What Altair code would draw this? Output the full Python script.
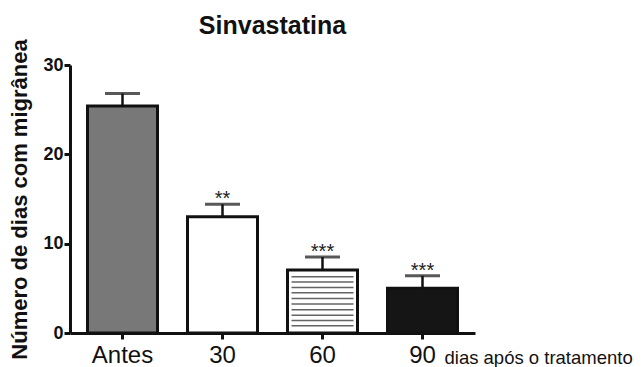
import altair as alt
import pandas as pd

categories = ["Antes", "30", "60", "90"]
means = [25.4, 13.0, 7.05, 5.0]
errors = [1.4, 1.4, 1.45, 1.4]
stars = ["", "**", "***", "***"]
fills = ["#787878", "#ffffff", "#ffffff", "#151515"]
stripe_levels = [0.8, 1.4, 2.0, 2.6, 3.25, 3.85, 4.5, 5.1, 5.7, 6.3]

df = pd.DataFrame({
    "cat": categories,
    "mean": means,
    "top": [m + e for m, e in zip(means, errors)],
    "star": stars,
    "fill": fills,
})
stripes = pd.DataFrame({"cat": ["60"] * len(stripe_levels), "lvl": stripe_levels})

FONT = "Liberation Sans"

xscale = alt.Scale(domain=categories, paddingInner=0.3, paddingOuter=0.175)
yscale = alt.Scale(domain=[0, 30], nice=False)

xenc = alt.X("cat:N", scale=xscale, sort=categories, axis=alt.Axis(
    title="dias após o tratamento", titleFont=FONT, titleFontSize=18.5,
    titleFontWeight="normal", titleColor="#111", titleX=374, titleY=30,
    titleAlign="left", titleBaseline="alphabetic", titleAnchor="start",
    labelFont=FONT, labelFontSize=24, labelColor="#111", labelAngle=0,
    labelBaseline="alphabetic", labelPadding=23, domainColor="#111", domainWidth=3,
    tickColor="#111", tickWidth=3, tickSize=6, grid=False))

bars = alt.Chart(df).mark_bar(stroke="#111", strokeWidth=3).encode(
    x=xenc,
    y=alt.Y("mean:Q", scale=yscale, axis=alt.Axis(
        title="Número de dias com migrânea", titleFont=FONT, titleFontSize=22,
        titleFontWeight="bold", titleColor="#111", titleX=-44, titleY=134,
        titleAngle=-90, titleAlign="center", titleBaseline="alphabetic",
        labelFont=FONT, labelFontSize=18, labelFontWeight="bold", labelColor="#111",
        labelPadding=1, values=[0, 10, 20, 30], domainColor="#111", domainWidth=3,
        tickColor="#111", tickWidth=3, tickSize=6, grid=False)),
    fill=alt.Fill("fill:N", scale=None),
)

stripe_marks = alt.Chart(stripes).mark_tick(color="#222", thickness=1.5, size=62, orient="horizontal").encode(
    x=alt.X("cat:N", scale=xscale, sort=categories),
    y=alt.Y("lvl:Q", scale=yscale),
)

err_rule = alt.Chart(df).mark_rule(color="#111", strokeWidth=2.5).encode(
    x=alt.X("cat:N", scale=xscale, sort=categories),
    y=alt.Y("mean:Q", scale=yscale),
    y2="top:Q",
)
err_cap = alt.Chart(df).mark_tick(color="#111", thickness=3, size=35, orient="horizontal").encode(
    x=alt.X("cat:N", scale=xscale, sort=categories),
    y=alt.Y("top:Q", scale=yscale),
)
star_text = alt.Chart(df).mark_text(font=FONT, fontSize=20, color="#222", baseline="alphabetic", dy=1).encode(
    x=alt.X("cat:N", scale=xscale, sort=categories),
    y=alt.Y("top:Q", scale=yscale),
    text="star:N",
)

chart = alt.layer(bars, stripe_marks, err_rule, err_cap, star_text).properties(
    width=405, height=268,
    title=alt.Title("Sinvastatina", font=FONT, fontSize=25, fontWeight="bold", color="#111",
                    offset=0),
    autosize=alt.AutoSizeParams(type="none"),
    padding={"left": 62, "top": 57, "right": 160, "bottom": 34},
).configure_view(stroke=None)

chart.save("out.html", embed_options={"renderer": "svg", "actions": False})
